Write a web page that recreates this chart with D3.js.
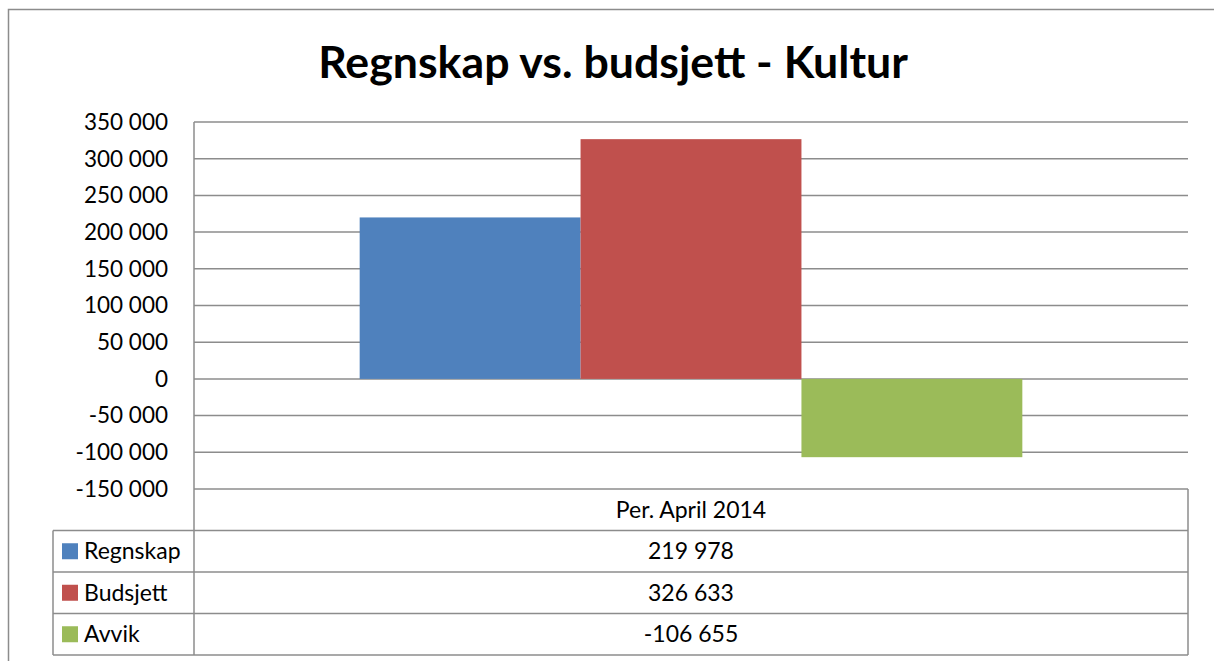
<!DOCTYPE html>
<html>
<head>
<meta charset="utf-8">
<script src="https://cdn.jsdelivr.net/npm/d3@7"></script>
<style>
  html, body { margin: 0; padding: 0; background: #fff; }
  svg { display: block; }
  text { font-family: Lato, "Open Sans", sans-serif; fill: #000; }
</style>
</head>
<body>
<div id="chart"></div>
<script>
const categories = ["Per. April 2014"];
const seriesNames = ["Regnskap", "Budsjett", "Avvik"];
const seriesValues = [219978, 326633, -106655];
const seriesColors = ["#4F81BD", "#C0504D", "#9BBB59"];
const yTicks = [-150000, -100000, -50000, 0, 50000, 100000, 150000, 200000, 250000, 300000, 350000];

const width = 1214;
const height = 661;
const plot = { left: 194, right: 1188, top: 122, bottom: 489 };
const tableLeft = 53;
const rowH = 41.5;
const gridColor = "#8c8c8c";

const nb = d3.formatLocale({ decimal: ",", thousands: " ", grouping: [3], currency: ["", ""], minus: "-" });
const num_f = nb.format(",d");

const svg = d3.select("#chart").append("svg")
  .attr("width", width)
  .attr("height", height);

// chart area border (runs off the right and bottom of the picture)
svg.append("rect")
  .attr("x", 8.5).attr("y", 9.5)
  .attr("width", 1240).attr("height", 700)
  .attr("fill", "none")
  .attr("stroke", gridColor)
  .attr("stroke-width", 1.5);

// title
const title = svg.append("text")
  .attr("x", 613)
  .attr("y", 78)
  .attr("text-anchor", "middle")
  .attr("font-weight", "bold")
  .attr("font-size", 44)
  .text("Regnskap vs. budsjett - Kultur");
// fit to the width of the original title
const tw = title.node().getComputedTextLength();
title.attr("font-size", 44 * 590 / tw);

const y = d3.scaleLinear()
  .domain([-150000, 350000])
  .range([plot.bottom, plot.top]);

const x0 = d3.scaleBand()
  .domain(categories)
  .range([plot.left, plot.right]);

const x1 = d3.scaleBand()
  .domain(seriesNames)
  .range([0, x0.bandwidth()])
  .paddingInner(0)
  .paddingOuter(0.75);

// gridlines
svg.append("g")
  .selectAll("line")
  .data(yTicks)
  .join("line")
  .attr("x1", plot.left)
  .attr("x2", plot.right)
  .attr("y1", d => y(d))
  .attr("y2", d => y(d))
  .attr("stroke", gridColor)
  .attr("stroke-width", 1.5);

// y tick labels
svg.append("g")
  .selectAll("text")
  .data(yTicks)
  .join("text")
  .attr("x", 168)
  .attr("y", d => y(d))
  .attr("dy", "0.35em")
  .attr("text-anchor", "end")
  .attr("font-size", 22.5)
  .text(d => num_f(d));

// bars
const bars = seriesNames.map((name, i) => ({ cat: categories[0], name, value: seriesValues[i], color: seriesColors[i] }));
svg.append("g")
  .selectAll("rect")
  .data(bars)
  .join("rect")
  .attr("x", d => x0(d.cat) + x1(d.name))
  .attr("width", x1.bandwidth())
  .attr("y", d => y(Math.max(0, d.value)))
  .attr("height", d => Math.abs(y(d.value) - y(0)))
  .attr("fill", d => d.color);

// data table
const table = svg.append("g")
  .attr("stroke", gridColor)
  .attr("stroke-width", 1.5)
  .attr("fill", "none");

const headerTop = plot.bottom;
const rowsTop = headerTop + rowH;
const tableBottom = rowsTop + rowH * seriesNames.length;

// vertical lines
table.append("line")
  .attr("x1", plot.left).attr("x2", plot.left)
  .attr("y1", plot.top).attr("y2", tableBottom);
table.append("line")
  .attr("x1", plot.right).attr("x2", plot.right)
  .attr("y1", headerTop).attr("y2", tableBottom);
table.append("line")
  .attr("x1", tableLeft).attr("x2", tableLeft)
  .attr("y1", rowsTop).attr("y2", tableBottom);

// horizontal row lines
table.selectAll("line.row")
  .data(d3.range(seriesNames.length + 1))
  .join("line")
  .attr("class", "row")
  .attr("x1", tableLeft)
  .attr("x2", plot.right)
  .attr("y1", i => rowsTop + i * rowH)
  .attr("y2", i => rowsTop + i * rowH);

// header
svg.append("g")
  .selectAll("text")
  .data(categories)
  .join("text")
  .attr("x", d => x0(d) + x0.bandwidth() / 2)
  .attr("y", headerTop + rowH / 2)
  .attr("dy", "0.35em")
  .attr("text-anchor", "middle")
  .attr("font-size", 23)
  .text(d => d);

// rows: legend key, name, value
const rows = svg.append("g")
  .selectAll("g")
  .data(bars)
  .join("g")
  .attr("transform", (d, i) => `translate(0, ${rowsTop + i * rowH})`);

rows.append("rect")
  .attr("x", 62)
  .attr("y", rowH / 2 - 8)
  .attr("width", 16)
  .attr("height", 16)
  .attr("fill", d => d.color);

rows.append("text")
  .attr("x", 84)
  .attr("y", rowH / 2)
  .attr("dy", "0.35em")
  .attr("font-size", 23)
  .text(d => d.name);

rows.append("text")
  .attr("x", x0(categories[0]) + x0.bandwidth() / 2)
  .attr("y", rowH / 2)
  .attr("dy", "0.35em")
  .attr("text-anchor", "middle")
  .attr("font-size", 23)
  .text(d => num_f(d.value));
</script>
</body>
</html>
